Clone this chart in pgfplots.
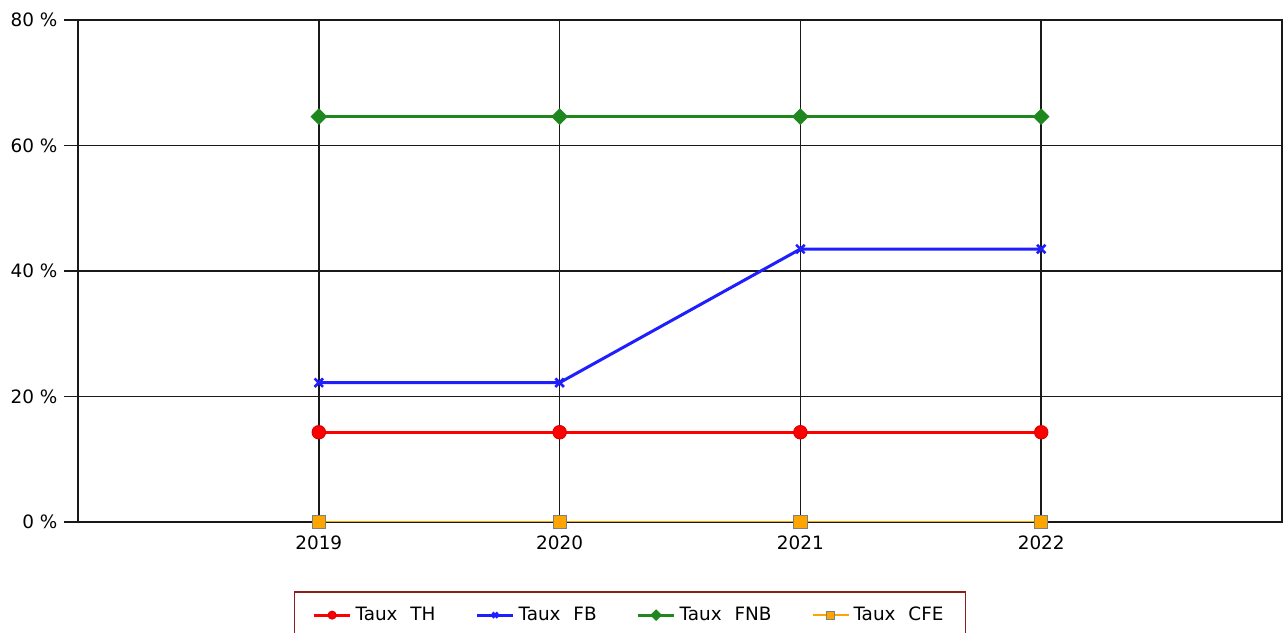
\documentclass[border=0pt]{standalone}
\usepackage{pgfplots}
\pgfplotsset{compat=1.18}
\usepackage{fontspec}
\setmainfont{DejaVu Sans}
\usetikzlibrary{plotmarks}

\definecolor{cRed}{RGB}{255,0,0}
\definecolor{cBlue}{RGB}{30,30,255}
\definecolor{cGreen}{RGB}{30,135,30}
\definecolor{cOrange}{RGB}{255,165,0}
\definecolor{cFrame}{RGB}{140,30,30}

\newcommand{\gap}{\hspace{0.7em}}

\begin{document}
\fontsize{9.2pt}{11pt}\selectfont
\begin{tikzpicture}
\begin{axis}[
  name=ax,
  scale only axis,
  width=602pt, height=251pt,
  xmin=2018, xmax=2023,
  ymin=0, ymax=80,
  xtick={2019,2020,2021,2022},
  ytick={0,20,40,60,80},
  /pgf/number format/assume math mode=true,
  /pgf/number format/1000 sep={},
  yticklabel={\pgfmathprintnumber{\tick} \%},
  tick align=outside,
  tick pos=left,
  major tick length=7pt,
  xtick style={draw=none},
  ytick style={black!90, line width=0.75pt},
  x tick label style={yshift=3.2pt},
  grid=major,
  major grid style={black!90, line width=0.75pt},
  axis line style={black!90, line width=0.75pt},
  tick label style={font=\fontsize{9.2pt}{11pt}\selectfont},
  legend columns=4,
  legend style={
    at={(0.4585,-0.1375)}, anchor=north,
    draw=cFrame, line width=0.9pt,
    inner xsep=9pt, inner ysep=5.5pt,
    font=\fontsize{9.2pt}{11pt}\selectfont,
    /tikz/every even column/.append style={column sep=18pt},
  },
  legend image code/.code={%
    \draw[mark repeat=2, mark phase=2, #1, every mark/.append style={scale=0.6}]
      plot coordinates {(0pt,0pt) (9pt,0pt) (18pt,0pt)};},
]
\addplot[cRed, line width=1.5pt, mark=*, mark size=3.4pt,
  mark options={fill=cRed, draw=cRed!80!black, line width=0.4pt}]
  coordinates {(2019,14.3) (2020,14.3) (2021,14.3) (2022,14.3)};
\addlegendentry{Taux\gap TH}
\addplot[cBlue, line width=1.5pt, mark=x, mark size=3pt,
  mark options={line width=1.3pt}]
  coordinates {(2019,22.2) (2020,22.2) (2021,43.5) (2022,43.5)};
\addlegendentry{Taux\gap FB}
\addplot[cGreen, line width=1.5pt, mark=square*, mark size=2.2pt,
  mark options={rotate=45, fill=cGreen, draw=cGreen}]
  coordinates {(2019,64.6) (2020,64.6) (2021,64.6) (2022,64.6)};
\addlegendentry{Taux\gap FNB}
\addplot[cOrange, line width=1pt, mark=square*, mark size=3.3pt,
  mark options={fill=cOrange, draw=black!50, line width=0.5pt}]
  coordinates {(2019,0) (2020,0) (2021,0) (2022,0)};
\addlegendentry{Taux\gap CFE}
\end{axis}
\pgfresetboundingbox
\useasboundingbox ([shift={(-39pt,-55.5pt)}]ax.south west) rectangle ([shift={(3pt,10pt)}]ax.north east);
\end{tikzpicture}
\end{document}
